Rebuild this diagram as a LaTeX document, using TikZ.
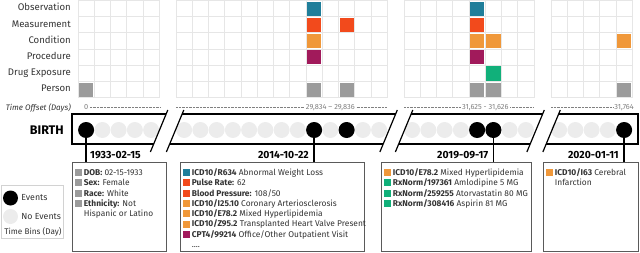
\documentclass[tikz,border=0pt]{standalone}
\usepackage{fontspec}
\setmainfont{Fira Sans}
\usetikzlibrary{positioning}
\definecolor{cTeal}{HTML}{1F7E9A}
\definecolor{cRed}{HTML}{F24A1C}
\definecolor{cOrange}{HTML}{F0983A}
\definecolor{cPurple}{HTML}{A11A5B}
\definecolor{cGreen}{HTML}{11B07A}
\definecolor{cGray}{HTML}{9B9B9B}
\definecolor{gridGray}{HTML}{E6E6E6}
\definecolor{binGray}{HTML}{ECECEC}
\definecolor{offGray}{HTML}{808080}
\definecolor{textDark}{HTML}{333333}
\definecolor{boxGray}{HTML}{5A5A5A}
\definecolor{legendGray}{HTML}{D2D2D2}

\begin{document}
\begin{tikzpicture}[
    x=1pt, y=-1pt,
    gridcell/.style={draw=gridGray, line width=1pt},
    rowlabel/.style={anchor=base east, inner sep=0pt, text=textDark, font=\fontsize{9.6}{11}\selectfont},
    offlabel/.style={fill=white, inner sep=1.5pt, text height=5.2pt, text depth=0pt, text=offGray, font=\fontsize{7.4}{8}\selectfont},
    offline/.style={draw=offGray, line width=0.5pt, dash pattern=on 0.7pt off 0.7pt},
    bin/.style={circle, fill=binGray, minimum size=16pt, inner sep=0pt},
    event/.style={circle, fill=black, minimum size=16pt, inner sep=0pt},
    band/.style={draw=black, line width=1.2pt},
    stem/.style={draw=black, line width=1.8pt},
    datelabel/.style={inner sep=0pt, font=\bfseries\fontsize{10.4}{12}\selectfont},
    infobox/.style={draw=boxGray, line width=0.8pt, anchor=north west, inner sep=0pt, minimum height=89pt},
    keysq/.style={minimum size=7pt, inner sep=0pt},
    entry/.style={anchor=west, inner sep=0pt, text height=6.9pt, text depth=1pt, text=textDark, font=\fontsize{8.4}{10}\selectfont}
]
    \useasboundingbox (0,0) rectangle (640,252);

    % heat map, one column per day
    \foreach \bx/\n in {78/5, 176/13, 404/8, 551/5}
        \foreach \c in {1,...,\n}
            \foreach \r in {0,...,5}
                \draw[gridcell] (\bx+16.25*\c-16.25, 0.5+16.2*\r) rectangle ++(16.25,16.2);
    \foreach \bx/\c/\r/\col in {78/0/5/cGray,
            176/8/0/cTeal, 176/8/1/cRed, 176/8/2/cOrange, 176/8/3/cPurple, 176/8/5/cGray,
            176/10/1/cRed, 176/10/5/cGray,
            404/4/0/cTeal, 404/4/1/cRed, 404/4/2/cOrange, 404/4/3/cPurple, 404/4/5/cGray,
            404/5/2/cOrange, 404/5/4/cGreen, 404/5/5/cGray,
            551/4/2/cOrange, 551/4/5/cGray}
        \fill[\col] (\bx+16.25*\c+1, 0.5+16.2*\r+1) rectangle ++(14.25,14.2);

    \node[rowlabel] (obs) at (71,10.8) {Observation};
    \node[rowlabel] (meas) at (71,27) {Measurement};
    \node[rowlabel] (cond) at (71,43.2) {Condition};
    \node[rowlabel] (proc) at (71,59.4) {Procedure};
    \node[rowlabel] (drug) at (71,75.6) {Drug Exposure};
    \node[rowlabel] (pers) at (71,91.8) {Person};

    % time offsets
    \node[rowlabel, font=\itshape\fontsize{8}{9}\selectfont] (toff) at (71,110) {Time Offset (Days)};
    \node[offlabel] (t1) at (86.1,107.3) {0};
    \node[offlabel] (t2) at (330.4,107.3) {29,834 -- 29,836};
    \node[offlabel] (t3) at (485.3,107.3) {31,625 - 31,626};
    \node[offlabel] (t4) at (624.1,107.3) {31,764};
    \draw[offline] (t1.east) -- (160,107.3);
    \draw[offline] (176,107.3) -- (t2.west) (t2.east) -- (387,107.3);
    \draw[offline] (404,107.3) -- (t3.west) (t3.east) -- (534,107.3);
    \draw[offline] (551,107.3) -- (t4.west);

    % timeline band with breaks
    \node[anchor=east, inner sep=0pt, font=\bfseries\fontsize{12.5}{14}\selectfont] (birth) at (64,130) {BIRTH};
    \foreach \bx/\n in {78/5, 176/13, 404/8, 551/5}
        \foreach \c in {1,...,\n}
            \node[bin] at (\bx+16.25*\c-8.125, 130) {};
    \draw[band] (166.1,114) -- (72,114) -- (72,144) -- (153.7,144);
    \foreach \a/\b in {175.5/389, 404.5/536}
        \draw[band] (\a+6.64,114) -- (\b+6.64,114) (\a-5.81,144) -- (\b-5.81,144);
    \draw[band] (558.6,114) -- (638,114) -- (638,144) -- (546.2,144);
    \foreach \m in {159.5, 175.5, 389, 404.5, 536, 552}
        \draw[band] (\m+8.3,110) -- (\m-9.13,152);

    \node[event] (ev1) at (86.1,130) {};
    \node[event] (ev2) at (314.1,130) {};
    \node[event] (ev3) at (346.6,130) {};
    \node[event] (ev4) at (477.1,130) {};
    \node[event] (ev5) at (493.4,130) {};
    \node[event] (ev6) at (624.1,130) {};

    % event details
    \node[infobox, minimum width=94pt] (box1) at (72,162) {};
    \node[infobox, minimum width=184pt] (box2) at (180,162) {};
    \node[infobox, minimum width=150pt] (box3) at (381,162) {};
    \node[infobox, minimum width=95pt] (box4) at (543,162) {};
    \draw[stem] (ev1.center) -- (ev1.center |- box1.north);
    \draw[stem] (ev2.center) -- (ev2.center |- box2.north);
    \draw[stem] (ev5.center) -- (ev5.center |- box3.north);
    \draw[stem] (ev6.center) -- (ev6.center |- box4.north);

    \node[datelabel, anchor=base west] (d1) at (90,158.8) {1933-02-15};
    \node[datelabel, anchor=base east] (d2) at (309,158.8) {2014-10-22};
    \node[datelabel, anchor=base east] (d3) at (488.5,158.8) {2019-09-17};
    \node[datelabel, anchor=base east] (d4) at (619,158.8) {2020-01-11};

    \node[keysq, fill=cGray] (k11) at (78.5,172.5) {};
    \node[entry, right=1.5pt of k11] {\textbf{DOB:} 02-15-1933};
    \node[keysq, fill=cGray] (k12) at (78.5,182.8) {};
    \node[entry, right=1.5pt of k12] {\textbf{Sex:} Female};
    \node[keysq, fill=cGray] (k13) at (78.5,193.1) {};
    \node[entry, right=1.5pt of k13] {\textbf{Race:} White};
    \node[keysq, fill=cGray] (k14) at (78.5,203.4) {};
    \node[entry, right=1.5pt of k14] (e14) {\textbf{Ethnicity:} Not};
    \node[entry] at (e14.west |- 0,213.7) {Hispanic or Latino};

    \node[keysq, fill=cTeal] (k21) at (186.5,172.5) {};
    \node[entry, right=1.5pt of k21] (e21) {\textbf{ICD10/R634} Abnormal Weight Loss};
    \node[keysq, fill=cRed] (k22) at (186.5,182.8) {};
    \node[entry, right=1.5pt of k22] {\textbf{Pulse Rate:} 62};
    \node[keysq, fill=cRed] (k23) at (186.5,193.1) {};
    \node[entry, right=1.5pt of k23] {\textbf{Blood Pressure:} 108/50};
    \node[keysq, fill=cOrange] (k24) at (186.5,203.4) {};
    \node[entry, right=1.5pt of k24] {\textbf{ICD10/I25.10} Coronary Arteriosclerosis};
    \node[keysq, fill=cOrange] (k25) at (186.5,213.7) {};
    \node[entry, right=1.5pt of k25] {\textbf{ICD10/E78.2} Mixed Hyperlipidemia};
    \node[keysq, fill=cOrange] (k26) at (186.5,224) {};
    \node[entry, right=1.5pt of k26] {\textbf{ICD10/Z95.2} Transplanted Heart Valve Present};
    \node[keysq, fill=cPurple] (k27) at (186.5,234.3) {};
    \node[entry, right=1.5pt of k27] {\textbf{CPT4/99214} Office/Other Outpatient Visit};
    \node[entry] at (e21.west |- 0,244.6) {....};

    \node[keysq, fill=cOrange] (k31) at (387.5,172.5) {};
    \node[entry, right=1.5pt of k31] {\textbf{ICD10/E78.2} Mixed Hyperlipidemia};
    \node[keysq, fill=cGreen] (k32) at (387.5,182.8) {};
    \node[entry, right=1.5pt of k32] {\textbf{RxNorm/197361} Amlodipine 5 MG};
    \node[keysq, fill=cGreen] (k33) at (387.5,193.1) {};
    \node[entry, right=1.5pt of k33] {\textbf{RxNorm/259255} Atorvastatin 80 MG};
    \node[keysq, fill=cGreen] (k34) at (387.5,203.4) {};
    \node[entry, right=1.5pt of k34] {\textbf{RxNorm/308416} Aspirin 81 MG};

    \node[keysq, fill=cOrange] (k41) at (549.5,172.5) {};
    \node[entry, right=1.5pt of k41] (e41) {\textbf{ICD10/I63} Cerebral};
    \node[entry] at (e41.west |- 0,182.8) {Infarction};

    % legend
    \node[draw=legendGray, line width=0.6pt, anchor=north west, inner sep=0pt, minimum width=62pt, minimum height=53pt] (legend) at (1,185) {};
    \node[event, minimum size=15pt] (lev) at (10.5,198) {};
    \node[entry, right=3pt of lev, font=\fontsize{8.8}{10}\selectfont] {Events};
    \node[bin, minimum size=15pt] (lbin) at (10.5,216.5) {};
    \node[entry, right=3pt of lbin, font=\fontsize{8.8}{10}\selectfont] {No Events};
    \node[entry, anchor=center, font=\fontsize{8.2}{10}\selectfont] (lbins) at (33,232) {Time Bins (Day)};
\end{tikzpicture}
\end{document}
